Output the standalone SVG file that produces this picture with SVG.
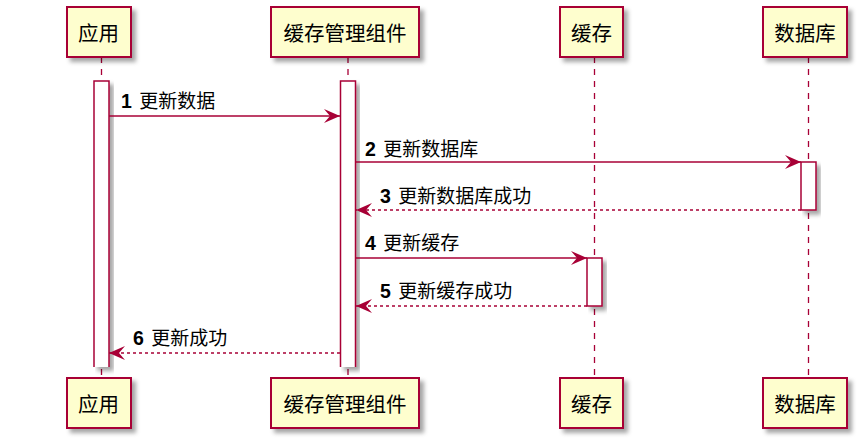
<svg xmlns="http://www.w3.org/2000/svg" width="867" height="448" viewBox="0 0 867 448">
<defs>
<filter id="sh" x="-20%" y="-20%" width="150%" height="150%">
<feGaussianBlur in="SourceAlpha" stdDeviation="2"/>
<feOffset dx="4" dy="4" result="b"/>
<feFlood flood-color="#000" flood-opacity="0.35"/>
<feComposite in2="b" operator="in"/>
<feMerge><feMergeNode/><feMergeNode in="SourceGraphic"/></feMerge>
</filter>
<marker id="ah" viewBox="0 0 16 14" refX="16" refY="7" markerWidth="16" markerHeight="14" markerUnits="userSpaceOnUse" orient="auto">
<path d="M0,0 L16,7 L0,14 L6,7 Z" fill="#A80036"/>
</marker>
</defs>
<style>
.box{fill:#FEFECE;stroke:#A80036;stroke-width:2;filter:url(#sh)}
.life{stroke:#A80036;stroke-width:1.3;stroke-dasharray:6,6;fill:none}
.act{fill:#FFFFFF;stroke:#A80036;stroke-width:1.5;filter:url(#sh)}
.msg{stroke:#A80036;stroke-width:1.5;fill:none;marker-end:url(#ah)}
.ret{stroke-dasharray:3,3}
.pname{font-family:"Noto Sans CJK SC",sans-serif;font-size:20.5px;fill:#000;text-anchor:middle}
.lbl{font-family:"Liberation Sans","Noto Sans CJK SC",sans-serif;font-size:19px;fill:#000}
.num{font-weight:bold;font-size:19.5px}
</style>
<g id="lifelines">
<line class="life" x1="101.5" y1="57" x2="101.5" y2="378"/>
<line class="life" x1="348" y1="57" x2="348" y2="378"/>
<line class="life" x1="594.5" y1="57" x2="594.5" y2="378"/>
<line class="life" x1="808.5" y1="57" x2="808.5" y2="378"/>
</g>
<g id="p-app">
<rect class="box" x="67" y="7" width="64" height="50"/>
<text class="pname" x="98.5" y="41">应用</text>
<rect class="box" x="67" y="378" width="64" height="50"/>
<text class="pname" x="98.5" y="412">应用</text>
</g>
<g id="p-mgr">
<rect class="box" x="271" y="7" width="148" height="50"/>
<text class="pname" x="345" y="41">缓存管理组件</text>
<rect class="box" x="271" y="378" width="148" height="50"/>
<text class="pname" x="345" y="412">缓存管理组件</text>
</g>
<g id="p-cache">
<rect class="box" x="560" y="7" width="63" height="50"/>
<text class="pname" x="591.5" y="41">缓存</text>
<rect class="box" x="560" y="378" width="63" height="50"/>
<text class="pname" x="591.5" y="412">缓存</text>
</g>
<g id="p-db">
<rect class="box" x="763" y="7" width="84" height="50"/>
<text class="pname" x="805" y="41">数据库</text>
<rect class="box" x="763" y="378" width="84" height="50"/>
<text class="pname" x="805" y="412">数据库</text>
</g>
<g id="activations">
<path class="act" d="M94,367 V81 H109 V367"/>
<path class="act" d="M340.5,367 V81 H355.5 V367"/>
<rect class="act" x="801" y="162" width="15" height="48"/>
<rect class="act" x="587" y="258" width="15" height="48"/>
</g>
<g id="connectors">
<line class="msg" x1="109" y1="116" x2="340" y2="116"/>
<line class="msg" x1="356" y1="162" x2="801" y2="162"/>
<line class="msg ret" x1="801" y1="210" x2="356" y2="210"/>
<line class="msg" x1="356" y1="258" x2="587" y2="258"/>
<line class="msg ret" x1="587" y1="306" x2="356" y2="306"/>
<line class="msg ret" x1="340" y1="353" x2="109" y2="353"/>
</g>
<g id="labels">
<text class="lbl" x="121" y="108"><tspan class="num">1</tspan> <tspan dx="2">更新数据</tspan></text>
<text class="lbl" x="365" y="156"><tspan class="num">2</tspan> <tspan dx="2">更新数据库</tspan></text>
<text class="lbl" x="380" y="203"><tspan class="num">3</tspan> <tspan dx="2">更新数据库成功</tspan></text>
<text class="lbl" x="365" y="250"><tspan class="num">4</tspan> <tspan dx="2">更新缓存</tspan></text>
<text class="lbl" x="380" y="298"><tspan class="num">5</tspan> <tspan dx="2">更新缓存成功</tspan></text>
<text class="lbl" x="133" y="345"><tspan class="num">6</tspan> <tspan dx="2">更新成功</tspan></text>
</g>
</svg>
